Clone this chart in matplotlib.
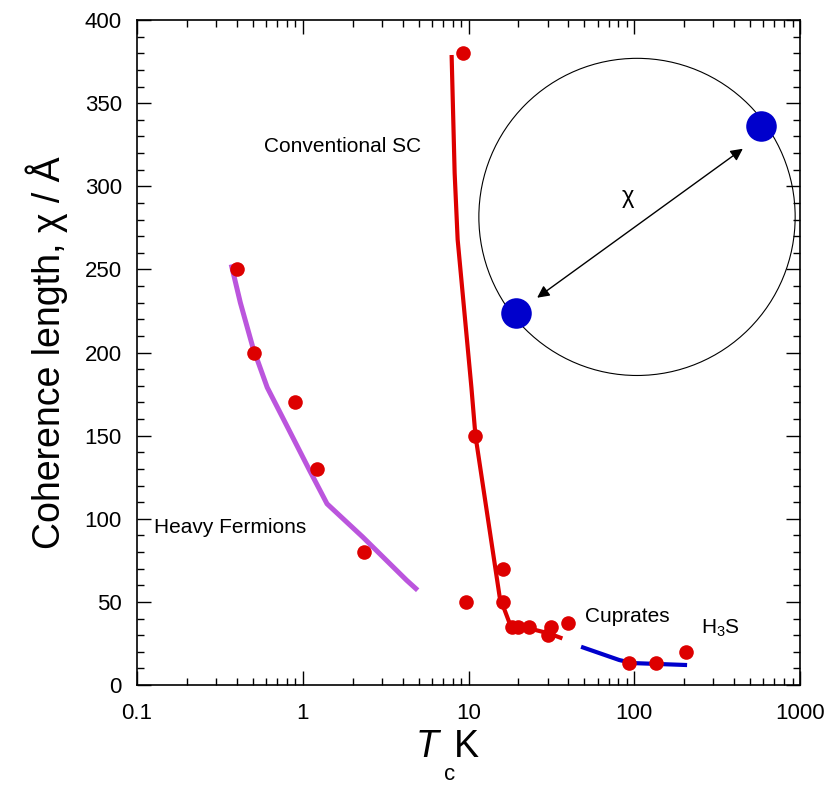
import matplotlib
matplotlib.use("Agg")
import matplotlib.pyplot as plt
from matplotlib.patches import Circle
from matplotlib.ticker import MultipleLocator, LogLocator, NullFormatter, FixedLocator, FixedFormatter

plt.rcParams['font.family'] = ['Liberation Sans', 'DejaVu Sans']
plt.rcParams['mathtext.default'] = 'regular'

# heavy fermions: measured points and guide line
hf_tc = [0.40, 0.51, 0.90, 1.21, 2.33]
hf_xi = [250, 200, 170, 130, 80]
hf_line_tc = [0.37, 0.42, 0.50, 0.61, 0.81, 1.10, 1.40, 2.30, 4.23, 4.93]
hf_line_xi = [253, 230, 203, 179, 155, 129, 109, 89, 63, 57]

# conventional superconductors
sc_tc = [9.2, 11.0, 9.6, 16.1, 16.1, 18.3, 19.8, 23.3, 31.2, 30.0, 39.6]
sc_xi = [380, 150, 50, 70, 50, 35, 35, 35, 35, 30, 37.5]
sc_line_tc = [7.9, 8.24, 8.59, 10.4, 11.0, 15.4, 17.7, 23.3, 30.6, 36.8]
sc_line_xi = [379, 308, 268, 179, 150, 53, 37, 34, 31, 28]

# cuprates / H3S
cu_tc = [93, 136, 206]
cu_xi = [13, 13, 20]
cu_line_tc = [47.7, 81.2, 97.3, 208]
cu_line_xi = [23, 15, 13.2, 12]

red = '#dd0000'
purple = '#bb55dd'
blue = '#0000cc'

fig = plt.figure(figsize=(8.32, 7.85), dpi=100)
ax = fig.add_axes([0.1647, 0.1274, 0.797, 0.847])

ax.plot(hf_line_tc, hf_line_xi, color=purple, lw=3.6, solid_capstyle='butt')
ax.plot(sc_line_tc, sc_line_xi, color=red, lw=3.0, solid_capstyle='butt')
ax.plot(cu_line_tc, cu_line_xi, color=blue, lw=3.0, solid_capstyle='butt')
ax.plot(hf_tc, hf_xi, 'o', color=red, ms=10.5, mec='none')
ax.plot(sc_tc, sc_xi, 'o', color=red, ms=10.5, mec='none')
ax.plot(cu_tc, cu_xi, 'o', color=red, ms=10.5, mec='none')

ax.set_xscale('log')
ax.set_xlim(0.1, 1000)
ax.set_ylim(0, 400)
ax.yaxis.set_major_locator(MultipleLocator(50))
ax.yaxis.set_minor_locator(MultipleLocator(10))
ax.xaxis.set_major_locator(FixedLocator([0.1, 1, 10, 100, 1000]))
ax.xaxis.set_major_formatter(FixedFormatter(['0.1', '1', '10', '100', '1000']))
ax.xaxis.set_minor_locator(LogLocator(base=10, subs=range(2, 10)))
ax.xaxis.set_minor_formatter(NullFormatter())
ax.tick_params(which='both', direction='in', top=True, right=True, labelsize=16, width=1)
ax.tick_params(which='major', length=10)
ax.tick_params(axis='x', which='major', pad=13)
ax.tick_params(axis='y', which='major', pad=11)
ax.tick_params(which='minor', length=5)
for s in ax.spines.values():
    s.set_linewidth(1.2)

ax.set_ylabel('Coherence length, χ / Å', fontsize=27, labelpad=12)

ax.text(0.58, 324, 'Conventional SC', fontsize=15, va='center')
ax.text(0.1265, 95, 'Heavy Fermions', fontsize=15, va='center')
ax.text(50.7, 41.5, 'Cuprates', fontsize=15, va='center')
ax.text(253, 34, 'H$_{3}$S', fontsize=15, va='center')

# x label: T with subscript c set low
fig.text(0.513, 0.049, 'T', fontsize=27, style='italic', ha='center', va='center')
fig.text(0.561, 0.049, 'K', fontsize=27, ha='center', va='center')
fig.text(0.540, 0.014, 'c', fontsize=16, ha='center', va='center')

# inset sketch
ax.add_patch(Circle((0.754, 0.704), 0.2385, transform=ax.transAxes, fill=False, ec='black', lw=0.8))
ax.plot([0.941, 0.572], [0.841, 0.559], 'o', color=blue, ms=22, mec='none', transform=ax.transAxes)
ax.annotate('', xy=(0.917, 0.809), xytext=(0.600, 0.580), xycoords='axes fraction',
            arrowprops=dict(arrowstyle='<|-|>', color='black', lw=1.0, mutation_scale=18))
ax.text(0.7406, 0.734, 'χ', fontsize=17, ha='center', va='center', transform=ax.transAxes)

fig.savefig('out.png', dpi=100)
